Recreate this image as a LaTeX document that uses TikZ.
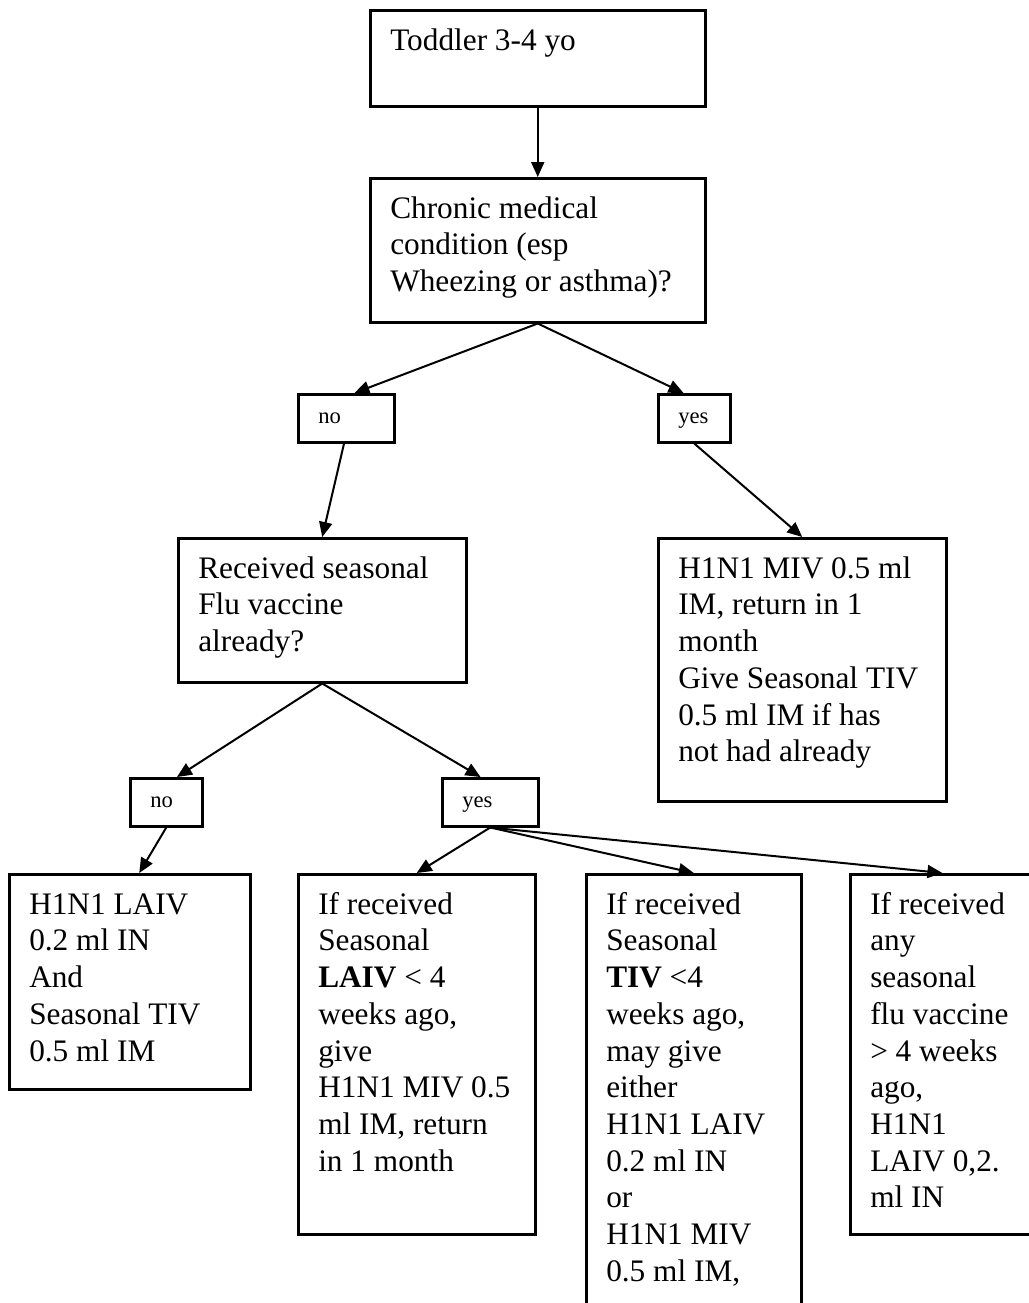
\documentclass[tikz,border=0pt]{standalone}
\usepackage{fontspec}
\setmainfont{Liberation Serif}
\usetikzlibrary{arrows.meta}

% text of a box: fixed width and height, lines set top left
\newcommand{\boxlines}[3]{\parbox[t][#2][t]{#1}{\begin{tabular}[t]{@{}l@{}}#3\end{tabular}}}

\tikzset{
  flowbox/.style={draw, line width=1.25pt, anchor=north west, inner xsep=10pt, inner ysep=7.15pt,
    font=\fontsize{15.65}{18.35}\selectfont},
  answer/.style={draw, line width=1.25pt, anchor=north west, inner xsep=10pt, inner ysep=0pt,
    minimum height=24pt, text height=5pt, text depth=0pt, align=left,
    font=\fontsize{11.3}{13}\selectfont},
  flow/.style={line width=1pt, -{Triangle[length=7.5pt,width=6.5pt]}}
}

\begin{document}
\begin{tikzpicture}[x=0.5pt, y=-0.5pt]

    % Page
    \useasboundingbox (0, 0) rectangle (1029, 1303);
    \clip (0, 0) rectangle (1029, 1303);

    % Start and first question
    \node[flowbox] (toddler) at (369, 9) {\boxlines{147.5pt}{33.7pt}{Toddler 3-4 yo}};
    \node[flowbox] (chronic) at (369, 177) {\boxlines{147.5pt}{57.7pt}{Chronic medical\\
        condition (esp\\ Wheezing or asthma)?}};

    % Answers
    \node[answer, text width=28pt] (no1) at (297, 393) {no};
    \node[answer, text width=16pt] (yes1) at (657, 393) {yes};

    % Second level
    \node[flowbox] (received) at (177, 537) {\boxlines{124pt}{57.7pt}{Received seasonal\\
        Flu vaccine\\ already?}};
    \node[flowbox] (miv) at (657, 537) {\boxlines{124pt}{117.2pt}{H1N1 MIV 0.5 ml\\
        IM, return in 1\\ month\\ Give Seasonal TIV\\ 0.5 ml IM if has\\ not had already}};

    \node[answer, text width=16pt] (no2) at (129, 777) {no};
    \node[answer, text width=28pt] (yes2) at (441, 777) {yes};

    % Outcomes
    \node[flowbox] (laiv) at (8, 873) {\boxlines{100.5pt}{93.2pt}{H1N1 LAIV\\ 0.2 ml IN\\
        And\\ Seasonal TIV\\ 0.5 ml IM}};
    \node[flowbox] (laivif) at (297, 873) {\boxlines{98.5pt}{165.7pt}{If received\\ Seasonal\\
        \textbf{LAIV} < 4\\ weeks ago,\\ give\\ H1N1 MIV 0.5\\ ml IM, return\\ in 1 month}};
    \node[flowbox] (tiv) at (585, 873) {\boxlines{87.5pt}{220.7pt}{If received\\ Seasonal\\
        \textbf{TIV} <4\\ weeks ago,\\ may give\\ either\\ H1N1 LAIV\\ 0.2 ml IN\\ or\\
        H1N1 MIV\\ 0.5 ml IM,}};
    \node[flowbox] (any) at (849, 873) {\boxlines{78.5pt}{165.7pt}{If received\\ any\\
        seasonal\\ flu vaccine\\ > 4 weeks\\ ago,\\ H1N1\\ LAIV 0,2.\\ ml IN}};

    % Connectors
    \draw[flow] (toddler) -- (chronic);
    \draw[flow] (chronic.south) -- (no1.72);
    \draw[flow] (chronic.south) -- (yes1.113);
    \draw[flow] (no1.265) -- (received.north);
    \draw[flow] (yes1.south) -- (miv.north);
    \draw[flow] (received.south) -- (no2.67);
    \draw[flow] (received.south) -- (yes2.111);
    \draw[flow] (no2.south) -- (laiv.85);
    \draw[flow] (yes2.south) -- (laivif.north);
    \draw[flow] (yes2.south) -- (tiv.north);
    \draw[flow] (yes2.south) -- (any.92);

\end{tikzpicture}
\end{document}
